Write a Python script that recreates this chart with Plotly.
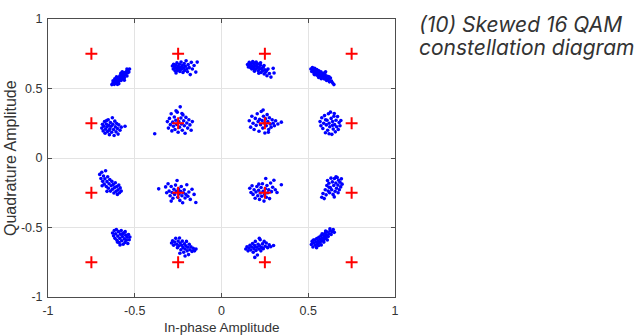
import plotly.graph_objects as go

# Ideal 16-QAM symbol positions (in-phase / quadrature)
ideal_i = [-0.75, -0.25, 0.25, 0.75] * 4
ideal_q = [0.75] * 4 + [0.25] * 4 + [-0.25] * 4 + [-0.75] * 4

# Received (skewed) symbols, listed cluster by cluster
rx_points = [
    # near (-0.75, 0.75)
    (-0.632, 0.528), (-0.625, 0.541), (-0.618, 0.530), (-0.615, 0.552), (-0.610, 0.545), (-0.607, 0.561),
    (-0.603, 0.538), (-0.600, 0.572), (-0.598, 0.556), (-0.594, 0.548), (-0.591, 0.581), (-0.588, 0.566),
    (-0.585, 0.592), (-0.582, 0.574), (-0.579, 0.558), (-0.577, 0.600), (-0.573, 0.585), (-0.570, 0.570),
    (-0.567, 0.607), (-0.563, 0.593), (-0.560, 0.578), (-0.556, 0.615), (-0.553, 0.601), (-0.548, 0.622),
    (-0.545, 0.590), (-0.542, 0.611), (-0.538, 0.632), (-0.534, 0.618), (-0.530, 0.640), (-0.605, 0.585),
    (-0.572, 0.620), (-0.592, 0.535), (-0.615, 0.570), (-0.600, 0.530), (-0.580, 0.610), (-0.560, 0.560),
    (-0.545, 0.640), (-0.625, 0.555),
    # near (-0.25, 0.75)
    (-0.283, 0.662), (-0.278, 0.640), (-0.276, 0.675), (-0.270, 0.652), (-0.268, 0.628), (-0.264, 0.668),
    (-0.260, 0.645), (-0.257, 0.684), (-0.254, 0.630), (-0.250, 0.658), (-0.247, 0.640), (-0.243, 0.675),
    (-0.240, 0.622), (-0.236, 0.652), (-0.233, 0.690), (-0.230, 0.638), (-0.226, 0.665), (-0.222, 0.615),
    (-0.219, 0.648), (-0.215, 0.680), (-0.212, 0.630), (-0.208, 0.660), (-0.204, 0.700), (-0.200, 0.642),
    (-0.196, 0.620), (-0.192, 0.672), (-0.186, 0.650), (-0.180, 0.600), (-0.174, 0.688), (-0.168, 0.640),
    (-0.158, 0.665), (-0.148, 0.618), (-0.140, 0.690), (-0.262, 0.612),
    # near (0.25, 0.75)
    (0.150, 0.672), (0.155, 0.655), (0.160, 0.688), (0.163, 0.668), (0.168, 0.650), (0.172, 0.680),
    (0.176, 0.662), (0.180, 0.694), (0.183, 0.645), (0.187, 0.676), (0.190, 0.658), (0.194, 0.685),
    (0.197, 0.638), (0.201, 0.666), (0.205, 0.650), (0.208, 0.678), (0.212, 0.628), (0.216, 0.655),
    (0.220, 0.640), (0.224, 0.668), (0.228, 0.615), (0.232, 0.645), (0.236, 0.628), (0.241, 0.655),
    (0.246, 0.605), (0.250, 0.635), (0.255, 0.618), (0.262, 0.592), (0.268, 0.640), (0.276, 0.608),
    (0.285, 0.582), (0.298, 0.645), (0.303, 0.612), (0.190, 0.625), (0.175, 0.640), (0.200, 0.690),
    (0.225, 0.685), (0.245, 0.665), (0.260, 0.630), (0.215, 0.610),
    # near (0.75, 0.75)
    (0.515, 0.640), (0.520, 0.622), (0.524, 0.650), (0.528, 0.632), (0.533, 0.612), (0.537, 0.645),
    (0.541, 0.625), (0.545, 0.605), (0.549, 0.636), (0.553, 0.618), (0.557, 0.598), (0.561, 0.628),
    (0.565, 0.608), (0.569, 0.588), (0.573, 0.620), (0.577, 0.598), (0.581, 0.578), (0.585, 0.610),
    (0.589, 0.588), (0.593, 0.568), (0.597, 0.600), (0.601, 0.578), (0.606, 0.558), (0.611, 0.588),
    (0.616, 0.566), (0.622, 0.548), (0.628, 0.575), (0.634, 0.553), (0.641, 0.540), (0.648, 0.528),
    (0.560, 0.580), (0.600, 0.620), (0.535, 0.600), (0.550, 0.595), (0.575, 0.570), (0.590, 0.610),
    (0.620, 0.585), (0.555, 0.630),
    # near (-0.75, 0.25)
    (-0.690, 0.215), (-0.686, 0.242), (-0.682, 0.195), (-0.678, 0.228), (-0.674, 0.262), (-0.671, 0.178),
    (-0.668, 0.208), (-0.664, 0.245), (-0.660, 0.225), (-0.657, 0.190), (-0.653, 0.275), (-0.650, 0.235),
    (-0.646, 0.168), (-0.643, 0.210), (-0.640, 0.255), (-0.636, 0.228), (-0.633, 0.185), (-0.629, 0.290),
    (-0.626, 0.242), (-0.622, 0.205), (-0.619, 0.162), (-0.615, 0.265), (-0.612, 0.225), (-0.608, 0.188),
    (-0.604, 0.248), (-0.600, 0.212), (-0.596, 0.172), (-0.592, 0.238), (-0.585, 0.200), (-0.578, 0.222),
    (-0.556, 0.228), (-0.648, 0.200), (-0.662, 0.270),
    # near (-0.25, 0.25)
    (-0.385, 0.175), (-0.312, 0.262), (-0.306, 0.215), (-0.300, 0.285), (-0.295, 0.240), (-0.290, 0.318),
    (-0.286, 0.195), (-0.281, 0.258), (-0.277, 0.228), (-0.272, 0.295), (-0.268, 0.205), (-0.263, 0.272),
    (-0.259, 0.242), (-0.255, 0.330), (-0.250, 0.185), (-0.246, 0.262), (-0.242, 0.222), (-0.238, 0.368),
    (-0.234, 0.288), (-0.230, 0.245), (-0.226, 0.200), (-0.222, 0.310), (-0.218, 0.268), (-0.214, 0.232),
    (-0.210, 0.178), (-0.205, 0.292), (-0.200, 0.252), (-0.195, 0.215), (-0.188, 0.275), (-0.182, 0.238),
    (-0.175, 0.200), (-0.168, 0.262), (-0.262, 0.340), (-0.228, 0.320),
    # near (0.25, 0.25)
    (0.160, 0.268), (0.168, 0.222), (0.175, 0.300), (0.182, 0.250), (0.188, 0.205), (0.195, 0.285),
    (0.200, 0.235), (0.206, 0.318), (0.211, 0.262), (0.216, 0.192), (0.220, 0.278), (0.225, 0.240),
    (0.229, 0.335), (0.234, 0.270), (0.238, 0.215), (0.242, 0.300), (0.246, 0.252), (0.250, 0.180),
    (0.254, 0.282), (0.258, 0.232), (0.263, 0.312), (0.267, 0.262), (0.272, 0.205), (0.276, 0.290),
    (0.281, 0.245), (0.286, 0.222), (0.292, 0.275), (0.298, 0.250), (0.305, 0.232), (0.312, 0.268),
    (0.325, 0.245), (0.345, 0.258), (0.240, 0.345), (0.270, 0.185),
    # near (0.75, 0.25)
    (0.568, 0.262), (0.573, 0.232), (0.578, 0.290), (0.584, 0.212), (0.589, 0.250), (0.594, 0.305),
    (0.599, 0.182), (0.604, 0.238), (0.608, 0.272), (0.612, 0.200), (0.616, 0.318), (0.620, 0.250),
    (0.624, 0.225), (0.628, 0.330), (0.632, 0.285), (0.636, 0.170), (0.640, 0.262), (0.644, 0.208),
    (0.648, 0.300), (0.652, 0.240), (0.656, 0.188), (0.660, 0.272), (0.664, 0.225), (0.669, 0.298),
    (0.673, 0.205), (0.678, 0.255), (0.683, 0.232), (0.688, 0.270), (0.620, 0.175), (0.600, 0.275),
    (0.650, 0.320), (0.640, 0.235),
    # near (-0.75, -0.25)
    (-0.702, -0.118), (-0.695, -0.148), (-0.690, -0.102), (-0.685, -0.168), (-0.680, -0.130), (-0.676, -0.188),
    (-0.672, -0.150), (-0.668, -0.092), (-0.664, -0.205), (-0.660, -0.170), (-0.656, -0.135), (-0.652, -0.218),
    (-0.648, -0.185), (-0.644, -0.155), (-0.640, -0.238), (-0.636, -0.200), (-0.632, -0.168), (-0.628, -0.225),
    (-0.624, -0.190), (-0.620, -0.252), (-0.616, -0.212), (-0.612, -0.178), (-0.608, -0.240), (-0.604, -0.205),
    (-0.600, -0.262), (-0.596, -0.228), (-0.592, -0.195), (-0.588, -0.250), (-0.584, -0.215), (-0.578, -0.238),
    (-0.660, -0.240), (-0.688, -0.200),
    # near (-0.25, -0.25)
    (-0.362, -0.222), (-0.322, -0.208), (-0.316, -0.250), (-0.308, -0.185), (-0.302, -0.238), (-0.296, -0.272),
    (-0.290, -0.205), (-0.285, -0.248), (-0.280, -0.290), (-0.274, -0.225), (-0.270, -0.262), (-0.265, -0.195),
    (-0.260, -0.240), (-0.256, -0.162), (-0.252, -0.282), (-0.248, -0.222), (-0.244, -0.258), (-0.240, -0.305),
    (-0.236, -0.240), (-0.232, -0.205), (-0.228, -0.272), (-0.224, -0.322), (-0.220, -0.250), (-0.215, -0.228),
    (-0.210, -0.288), (-0.205, -0.262), (-0.200, -0.192), (-0.194, -0.275), (-0.188, -0.245), (-0.180, -0.298),
    (-0.170, -0.225), (-0.158, -0.262), (-0.148, -0.320), (-0.290, -0.310),
    # near (0.25, -0.25)
    (0.163, -0.218), (0.170, -0.248), (0.176, -0.200), (0.182, -0.262), (0.188, -0.228), (0.194, -0.290),
    (0.199, -0.245), (0.204, -0.205), (0.209, -0.272), (0.214, -0.232), (0.219, -0.298), (0.223, -0.252),
    (0.228, -0.212), (0.232, -0.275), (0.236, -0.185), (0.240, -0.240), (0.245, -0.310), (0.249, -0.262),
    (0.253, -0.222), (0.258, -0.282), (0.262, -0.198), (0.267, -0.250), (0.272, -0.228), (0.277, -0.292),
    (0.283, -0.180), (0.288, -0.242), (0.295, -0.210), (0.302, -0.160), (0.310, -0.228), (0.320, -0.248),
    (0.345, -0.192), (0.255, -0.148), (0.215, -0.188),
    # near (0.75, -0.25)
    (0.578, -0.282), (0.585, -0.255), (0.592, -0.292), (0.598, -0.228), (0.603, -0.265), (0.607, -0.198),
    (0.611, -0.162), (0.615, -0.238), (0.619, -0.182), (0.623, -0.250), (0.627, -0.212), (0.631, -0.145),
    (0.635, -0.228), (0.639, -0.172), (0.643, -0.262), (0.647, -0.198), (0.651, -0.148), (0.655, -0.240),
    (0.659, -0.180), (0.663, -0.218), (0.667, -0.140), (0.671, -0.195), (0.675, -0.160), (0.679, -0.228),
    (0.683, -0.175), (0.687, -0.208), (0.691, -0.150), (0.695, -0.188), (0.650, -0.280), (0.620, -0.210),
    (0.672, -0.250), (0.660, -0.135),
    # near (-0.75, -0.75)
    (-0.628, -0.540), (-0.622, -0.560), (-0.618, -0.522), (-0.614, -0.578), (-0.610, -0.545), (-0.606, -0.515),
    (-0.602, -0.592), (-0.598, -0.562), (-0.594, -0.530), (-0.590, -0.608), (-0.586, -0.578), (-0.582, -0.548),
    (-0.578, -0.522), (-0.575, -0.595), (-0.571, -0.565), (-0.567, -0.620), (-0.563, -0.538), (-0.560, -0.582),
    (-0.556, -0.608), (-0.552, -0.555), (-0.548, -0.592), (-0.544, -0.570), (-0.540, -0.615), (-0.536, -0.550),
    (-0.532, -0.588), (-0.528, -0.568), (-0.585, -0.625), (-0.600, -0.605), (-0.570, -0.545), (-0.555, -0.530),
    # near (-0.25, -0.75)
    (-0.288, -0.612), (-0.282, -0.595), (-0.276, -0.628), (-0.270, -0.605), (-0.264, -0.578), (-0.258, -0.620),
    (-0.254, -0.645), (-0.250, -0.598), (-0.246, -0.632), (-0.242, -0.575), (-0.238, -0.612), (-0.234, -0.660),
    (-0.230, -0.628), (-0.226, -0.598), (-0.222, -0.645), (-0.218, -0.678), (-0.214, -0.618), (-0.210, -0.655),
    (-0.206, -0.632), (-0.202, -0.600), (-0.198, -0.668), (-0.194, -0.642), (-0.190, -0.695), (-0.186, -0.620),
    (-0.182, -0.660), (-0.176, -0.638), (-0.170, -0.672), (-0.163, -0.650), (-0.155, -0.668), (-0.147, -0.655),
    (-0.210, -0.705), (-0.240, -0.685),
    # near (0.25, -0.75)
    (0.140, -0.655), (0.147, -0.638), (0.153, -0.668), (0.158, -0.648), (0.164, -0.628), (0.169, -0.662),
    (0.174, -0.640), (0.179, -0.615), (0.183, -0.678), (0.187, -0.652), (0.191, -0.630), (0.195, -0.600),
    (0.199, -0.665), (0.203, -0.642), (0.207, -0.698), (0.211, -0.620), (0.215, -0.655), (0.219, -0.632),
    (0.223, -0.588), (0.227, -0.668), (0.231, -0.645), (0.236, -0.618), (0.241, -0.652), (0.246, -0.600),
    (0.252, -0.635), (0.258, -0.612), (0.266, -0.645), (0.275, -0.625), (0.284, -0.638), (0.300, -0.630),
    (0.192, -0.715), (0.218, -0.578),
    # near (0.75, -0.75)
    (0.518, -0.622), (0.522, -0.600), (0.527, -0.640), (0.531, -0.612), (0.536, -0.590), (0.540, -0.628),
    (0.545, -0.605), (0.549, -0.580), (0.553, -0.618), (0.557, -0.595), (0.561, -0.570), (0.565, -0.608),
    (0.569, -0.585), (0.573, -0.560), (0.577, -0.598), (0.581, -0.575), (0.585, -0.550), (0.589, -0.588),
    (0.593, -0.565), (0.597, -0.542), (0.601, -0.578), (0.605, -0.555), (0.610, -0.532), (0.615, -0.565),
    (0.620, -0.545), (0.626, -0.525), (0.632, -0.550), (0.638, -0.530), (0.644, -0.515), (0.650, -0.535),
    (0.548, -0.645), (0.575, -0.625), (0.600, -0.525), (0.530, -0.590), (0.560, -0.630), (0.590, -0.605),
    (0.610, -0.590), (0.625, -0.510), (0.580, -0.545),
]
rx_i = [p[0] for p in rx_points]
rx_q = [p[1] for p in rx_points]

tick_vals = [-1, -0.5, 0, 0.5, 1]
tick_text = ["-1", "-0.5", "0", "0.5", "1"]

caption_lines = ["(10) Skewed 16 QAM", "constellation diagram"]

fig = go.Figure()
fig.add_trace(go.Scatter(
    x=rx_i, y=rx_q, mode="markers",
    marker=dict(color="#0000ff", size=3.6, line=dict(width=0)),
    hoverinfo="skip", showlegend=False,
))
fig.add_trace(go.Scatter(
    x=ideal_i, y=ideal_q, mode="markers",
    marker=dict(symbol="cross-thin", size=8.5, color="#ff0000",
                line=dict(color="#ff0000", width=2)),
    hoverinfo="skip", showlegend=False,
))

axis_style = dict(
    range=[-1, 1], tickvals=tick_vals, ticktext=tick_text,
    showgrid=True, gridcolor="#e3e3e3", gridwidth=1,
    zeroline=False, showline=True, linecolor="#4d4d4d", linewidth=1,
    mirror="ticks", ticks="inside", ticklen=4, tickcolor="#4d4d4d",
    tickfont=dict(family="Liberation Sans, Arial, sans-serif", size=12.5, color="#333333"),
    fixedrange=True,
)

fig.update_layout(
    width=635, height=336,
    margin=dict(l=48, r=240, t=13, b=39),
    paper_bgcolor="white", plot_bgcolor="white",
    xaxis=dict(axis_style, ticklabelstandoff=2),
    yaxis=dict(axis_style, ticklabelstandoff=2),
)

fig.add_annotation(
    text="In-phase Amplitude", xref="paper", yref="paper", x=0.5, y=0,
    xanchor="center", yanchor="top", yshift=-21, showarrow=False,
    font=dict(family="Liberation Sans, Arial, sans-serif", size=13.5, color="#333333"),
)
fig.add_annotation(
    text="Quadrature Amplitude", xref="paper", yref="paper", x=0, y=0.5,
    xanchor="center", yanchor="middle", xshift=-38, textangle=-90, showarrow=False,
    font=dict(family="Liberation Sans, Arial, sans-serif", size=16, color="#333333"),
)
for k, line in enumerate(caption_lines):
    fig.add_annotation(
        text=line, xref="paper", yref="paper", x=1.063, y=1,
        xanchor="left", yanchor="top", yshift=9 - 23 * k, showarrow=False,
        font=dict(family="Inter, sans-serif", size=21, color="#333333", style="italic"),
    )

fig.write_html("out.html")
